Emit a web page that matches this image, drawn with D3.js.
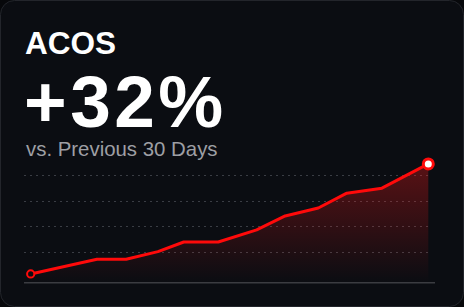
<!DOCTYPE html>
<html><head><meta charset="utf-8">
<script src="https://cdn.jsdelivr.net/npm/d3@7"></script>
<style>html,body{margin:0;padding:0;background:#07080b;}svg{display:block;}</style>
</head><body>
<svg id="c" width="464" height="307"></svg>
<script>
const title = "ACOS";
const bigValue = "+32%";
const subtitle = "vs. Previous 30 Days";
const days = [0, 5, 7.2, 9.6, 11.55, 14.15, 17.05, 19.2, 21.7, 23.85, 26.5, 30];
const acos = [2.9, 14.3, 14.3, 20.3, 27.8, 27.8, 37.2, 48.1, 54.3, 65.8, 69.7, 88.6];
const gridTicks = [20, 40, 60, 80];

const svg = d3.select("#c");
const W = 464, H = 307;
svg.append("rect").attr("x",0.5).attr("y",0.5).attr("width",W-1).attr("height",H-1)
  .attr("rx",14).attr("fill","#0b0d12").attr("stroke","#23252b").attr("stroke-width",1);

const x = d3.scaleLinear().domain([0,30]).range([30.7,428.3]);
const y = d3.scaleLinear().domain([-4,100]).range([282.8,149.3]);

const defs = svg.append("defs");
const g = defs.append("linearGradient").attr("id","fillg")
  .attr("gradientUnits","userSpaceOnUse").attr("y1",y(88.6)).attr("y2",y(-4)).attr("x1",0).attr("x2",0);
g.append("stop").attr("offset",0).attr("stop-color","#ff1a1a").attr("stop-opacity",0.32);
g.append("stop").attr("offset",1).attr("stop-color","#ff1a1a").attr("stop-opacity",0.0);

svg.append("g").selectAll("line").data(gridTicks).join("line")
  .attr("x1",24).attr("x2",431).attr("y1",d=>Math.round(y(d))+0.5).attr("y2",d=>Math.round(y(d))+0.5)
  .attr("stroke","#3a3d44").attr("stroke-width",1).attr("stroke-dasharray","2,4");

const data = days.map((d,i)=>({d, v: acos[i]}));
svg.append("path").datum(data)
  .attr("d", d3.area().x(p=>x(p.d)).y0(y(-4)).y1(p=>y(p.v)))
  .attr("fill","url(#fillg)");

svg.append("line").attr("x1",24).attr("x2",435).attr("y1",y(-4)).attr("y2",y(-4))
  .attr("stroke","#3b3c41").attr("stroke-width",1.5);

svg.append("path").datum(data)
  .attr("d", d3.line().x(p=>x(p.d)).y(p=>y(p.v)))
  .attr("fill","none").attr("stroke","#ff0a0a").attr("stroke-width",3).attr("stroke-linejoin","round");

const first = data[0], last = data[data.length-1];
svg.append("circle").attr("cx",x(first.d)).attr("cy",y(first.v)).attr("r",3.6)
  .attr("fill","#0b0d12").attr("stroke","#ff0a0a").attr("stroke-width",2);
svg.append("circle").attr("cx",x(last.d)).attr("cy",y(last.v)).attr("r",5)
  .attr("fill","#ffffff").attr("stroke","#ff0a0a").attr("stroke-width",3);

const font = "'Liberation Sans', Arial, Helvetica, sans-serif";
svg.append("text").attr("x",25).attr("y",54).text(title)
  .attr("font-family",font).attr("font-weight",700).attr("font-size",31.5).attr("fill","#ffffff");
svg.append("text").attr("x",24).attr("y",127).text(bigValue)
  .attr("font-family",font).attr("font-weight",700).attr("font-size",73).attr("letter-spacing",3.5).attr("fill","#ffffff");
svg.append("text").attr("x",26).attr("y",156).text(subtitle)
  .attr("font-family",font).attr("font-weight",400).attr("font-size",20.4).attr("fill","#9e9fa4");
</script>
</body></html>
